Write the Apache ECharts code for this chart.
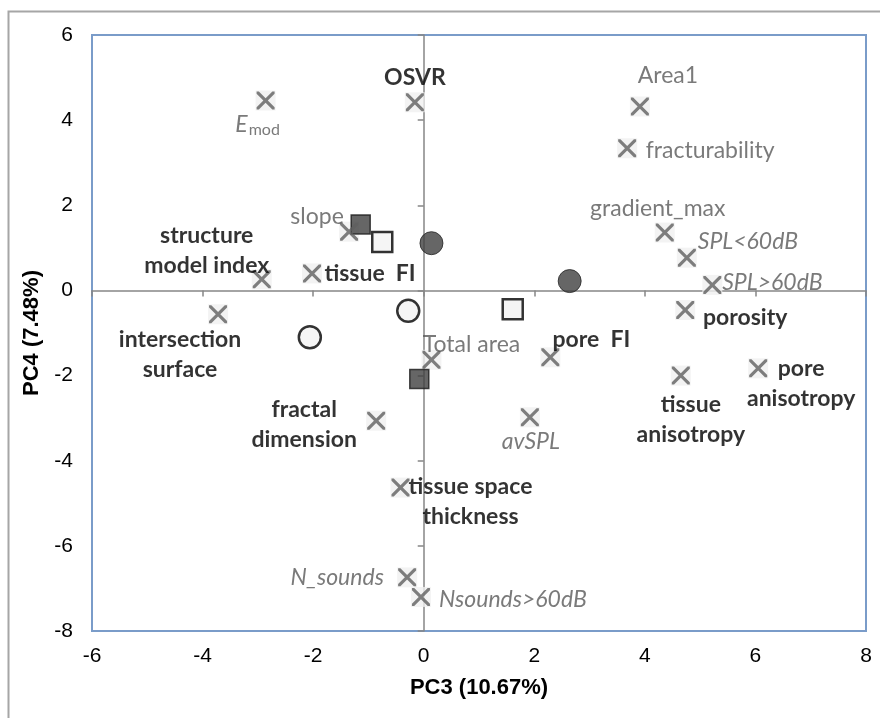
<!DOCTYPE html>
<html>
<head>
<meta charset="utf-8">
<title>PC3 vs PC4 loadings</title>
<script src="https://cdn.jsdelivr.net/npm/echarts@6/dist/echarts.min.js"></script>
<style>
  html, body { margin: 0; padding: 0; background: #fff; }
  #chart { width: 880px; height: 718px; }
</style>
</head>
<body>
<div id="chart"></div>
<script>
// 변수 적재값 (PC3, PC4)
const varNames = ['E_mod', 'OSVR', 'Area1', 'fracturability', 'slope', 'gradient_max',
    'SPL<60dB', 'structure model index', 'tissue FI', 'SPL>60dB', 'intersection surface',
    'porosity', 'Total area', 'pore FI', 'pore anisotropy', 'tissue anisotropy',
    'fractal dimension', 'avSPL', 'tissue space thickness', 'N_sounds', 'Nsounds>60dB'];
const varPC3 = [-2.86, -0.16, 3.91, 3.68, -1.35, 4.36, 4.76, -2.93, -2.02, 5.22, -3.72,
    4.73, 0.14, 2.29, 6.05, 4.65, -0.86, 1.92, -0.42, -0.30, -0.05];
const varPC4 = [4.46, 4.42, 4.32, 3.34, 1.38, 1.36, 0.77, 0.26, 0.40, 0.13, -0.56,
    -0.46, -1.63, -1.57, -1.83, -2.00, -3.06, -2.98, -4.63, -6.74, -7.20];
// 변수 종류: mech(역학), struct(구조), sound(음향)
const varKind = ['emod', 'struct', 'mech', 'mech', 'mech', 'mech', 'sound', 'struct', 'struct',
    'sound', 'struct', 'struct', 'mech', 'struct', 'struct', 'struct', 'struct', 'sound',
    'struct', 'sound', 'sound'];

// 시료 점수
const darkSquarePC3 = [-1.14, -0.08];
const darkSquarePC4 = [1.55, -2.08];
const lightSquarePC3 = [-0.75, 1.61];
const lightSquarePC4 = [1.14, -0.44];
const darkCirclePC3 = [0.14, 2.64];
const darkCirclePC4 = [1.11, 0.22];
const lightCirclePC3 = [-2.06, -0.28];
const lightCirclePC4 = [-1.10, -0.48];

// 축 눈금
const xTicks = { min: -6, max: 8, step: 2 };
const yTicks = { min: -8, max: 6, step: 2 };

// 라벨 배치 (마커 중심 기준 픽셀 오프셋, 여러 줄 텍스트)
const labelLayout = {
    'E_mod': { text: '{i|E}{sub|mod}', dx: -8, dy: 24 },
    'OSVR': { text: 'OSVR', dx: 0, dy: -25 },
    'Area1': { text: 'Area1', dx: 28, dy: -31 },
    'fracturability': { text: 'fracturability', dx: 83, dy: 2 },
    'slope': { text: 'slope', dx: -32, dy: -15 },
    'gradient_max': { text: 'gradient_max', dx: -7, dy: -24 },
    'SPL<60dB': { text: 'SPL<60dB', dx: 61, dy: -16 },
    'structure model index': { text: 'structure\nmodel index', dx: -55, dy: -29 },
    'tissue FI': { text: 'tissue  FI', dx: 58, dy: 0 },
    'SPL>60dB': { text: 'SPL>60dB', dx: 60, dy: -2 },
    'intersection surface': { text: 'intersection\nsurface', dx: -38, dy: 40 },
    'porosity': { text: 'porosity', dx: 60, dy: 8 },
    'Total area': { text: 'Total area', dx: 40, dy: -15 },
    'pore FI': { text: 'pore  FI', dx: 41, dy: -18 },
    'pore anisotropy': { text: 'pore\nanisotropy', dx: 43, dy: 15 },
    'tissue anisotropy': { text: 'tissue\nanisotropy', dx: 10, dy: 44 },
    'fractal dimension': { text: 'fractal\ndimension', dx: -72, dy: 4 },
    'avSPL': { text: 'avSPL', dx: 1, dy: 24 },
    'tissue space thickness': { text: 'tissue space\nthickness', dx: 70, dy: 14 },
    'N_sounds': { text: 'N_sounds', dx: -70, dy: 0 },
    'Nsounds>60dB': { text: 'Nsounds>60dB', dx: 92, dy: 3 }
};

const LABEL_FONT = 'Lato, "Open Sans", sans-serif';
const AXIS_FONT = '"Liberation Sans", Arial, sans-serif';
const GREY_TEXT = '#595959';

const kindStyle = {
    struct: { color: '#000', fontWeight: 'bold', fontStyle: 'normal' },
    mech: { color: GREY_TEXT, fontWeight: 'normal', fontStyle: 'normal' },
    sound: { color: GREY_TEXT, fontWeight: 'normal', fontStyle: 'italic' },
    emod: { color: GREY_TEXT, fontWeight: 'normal', fontStyle: 'normal' }
};

// X 마커 모양
const CROSS_PATH = 'path://M0,0 L2.5,0 L10,7.5 L17.5,0 L20,0 L20,2.5 L12.5,10 L20,17.5 L20,20 L17.5,20 L10,12.5 L2.5,20 L0,20 L0,17.5 L7.5,10 L0,2.5 Z';

const zip = (xs, ys) => xs.map((x, i) => [x, ys[i]]);

const varData = varNames.map((name, i) => {
    const lay = labelLayout[name];
    const st = kindStyle[varKind[i]];
    return {
        name: name,
        value: [varPC3[i], varPC4[i]],
        label: {
            show: true,
            formatter: lay.text,
            position: 'inside',
            offset: [lay.dx, lay.dy],
            align: 'center',
            verticalAlign: 'middle',
            fontFamily: LABEL_FONT,
            fontSize: 23,
            lineHeight: 30,
            color: st.color,
            fontWeight: st.fontWeight,
            fontStyle: st.fontStyle,
            rich: {
                i: { fontFamily: LABEL_FONT, fontSize: 23, fontStyle: 'italic', color: GREY_TEXT },
                sub: { fontFamily: LABEL_FONT, fontSize: 16, color: GREY_TEXT, padding: [10, 0, 0, 1] }
            }
        }
    };
});

const chart = echarts.init(document.getElementById('chart'));

const baseX = { type: 'value', min: xTicks.min, max: xTicks.max, interval: xTicks.step };
const baseY = { type: 'value', min: yTicks.min, max: yTicks.max, interval: yTicks.step };

const option = {
    animation: false,
    backgroundColor: '#fff',
    graphic: [{
        type: 'rect',
        left: 6, top: 9,
        shape: { width: 900, height: 800 },
        style: { fill: 'none', stroke: '#A6A6A6', lineWidth: 2 },
        silent: true
    }],
    grid: {
        left: 92, top: 35, right: 14, bottom: 87,
        show: true,
        borderColor: '#7A9CC9',
        borderWidth: 2
    },
    xAxis: [
        {
            ...baseX,
            position: 'bottom',
            axisLine: { show: false, onZero: false },
            axisTick: { show: false },
            splitLine: { show: false },
            axisLabel: { fontFamily: AXIS_FONT, fontSize: 21, color: '#000', margin: 15 },
            name: 'PC3 (10.67%)',
            nameLocation: 'middle',
            nameGap: 46,
            nameTextStyle: { fontFamily: AXIS_FONT, fontSize: 22, fontWeight: 'bold', color: '#000' }
        },
        {
            ...baseX,
            position: 'bottom',
            axisLine: { show: true, onZero: true, lineStyle: { color: '#868686', width: 1.5 } },
            axisTick: { show: true, length: 6, lineStyle: { color: '#868686', width: 1.5 } },
            axisLabel: { show: false },
            splitLine: { show: false }
        }
    ],
    yAxis: [
        {
            ...baseY,
            position: 'left',
            axisLine: { show: false, onZero: false },
            axisTick: { show: false },
            splitLine: { show: false },
            axisLabel: { fontFamily: AXIS_FONT, fontSize: 21, color: '#000', margin: 19 },
            name: 'PC4 (7.48%)',
            nameLocation: 'middle',
            nameRotate: 90,
            nameGap: 45,
            nameTextStyle: { fontFamily: AXIS_FONT, fontSize: 22, fontWeight: 'bold', color: '#000' }
        },
        {
            ...baseY,
            position: 'left',
            axisLine: { show: true, onZero: true, lineStyle: { color: '#868686', width: 1.5 } },
            axisTick: { show: true, length: 6, lineStyle: { color: '#868686', width: 1.5 } },
            axisLabel: { show: false },
            splitLine: { show: false }
        }
    ],
    series: [
        {
            // X 마커 뒤의 옅은 회색 바탕
            type: 'scatter', silent: true,
            symbol: 'rect', symbolSize: 20,
            itemStyle: { color: '#F0F0F0' },
            data: zip(varPC3, varPC4)
        },
        {
            type: 'scatter',
            symbol: 'rect', symbolSize: 19,
            itemStyle: { color: '#404040', borderColor: '#1A1A1A', borderWidth: 1.5 },
            data: zip(darkSquarePC3, darkSquarePC4)
        },
        {
            type: 'scatter',
            symbol: 'rect', symbolSize: 20,
            itemStyle: { color: '#F2F2F2', borderColor: '#000', borderWidth: 2.5 },
            data: zip(lightSquarePC3, lightSquarePC4)
        },
        {
            type: 'scatter',
            symbol: 'circle', symbolSize: 23,
            itemStyle: { color: '#404040', borderColor: '#262626', borderWidth: 1 },
            data: zip(darkCirclePC3, darkCirclePC4)
        },
        {
            type: 'scatter',
            symbol: 'circle', symbolSize: 22,
            itemStyle: { color: '#F2F2F2', borderColor: '#000', borderWidth: 2.5 },
            data: zip(lightCirclePC3, lightCirclePC4)
        },
        {
            // 변수 적재값 (X 마커 + 라벨)
            type: 'scatter',
            symbol: CROSS_PATH, symbolSize: 18,
            itemStyle: { color: '#5F5F5F' },
            data: varData
        }
    ]
};

chart.setOption(option);
</script>
</body>
</html>
